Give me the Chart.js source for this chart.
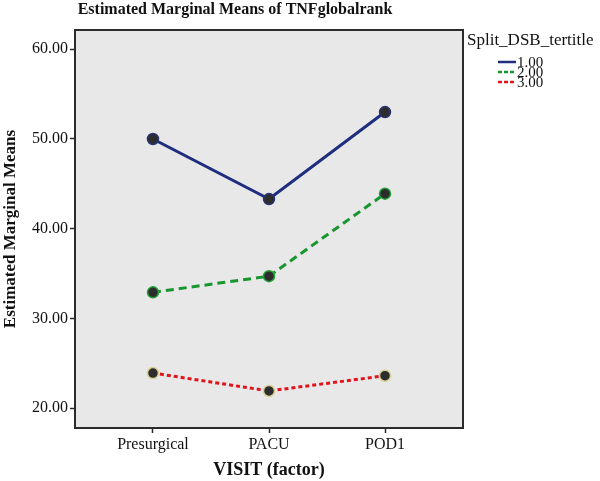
<!DOCTYPE html>
<html>
<head>
<meta charset="utf-8">
<script src="https://cdn.jsdelivr.net/npm/chart.js@4.4.0/dist/chart.umd.min.js"></script>
<style>
  html, body { margin: 0; padding: 0; background: #fff; }
  #wrap { width: 600px; height: 481px; }
</style>
</head>
<body>
<div id="wrap"><canvas id="grafico" width="600" height="481"></canvas></div>
<script>
// datos
const visitas = ['Presurgical', 'PACU', 'POD1'];
const grupos = ['1.00', '2.00', '3.00'];
const serie1 = [50.0, 43.3, 53.0];
const serie2 = [32.9, 34.7, 43.9];
const serie3 = [23.9, 21.9, 23.6];
const ticksY = [20, 30, 40, 50, 60];

const colores = ['#1f2d7f', '#17952f', '#e0141c'];
const bordesPunto = ['#2a3473', '#22a33a', '#d8cf95'];
const guiones = [[], [8, 5], [4, 3]];
const fuente = '"Liberation Serif", "DejaVu Serif", serif';

function puntos(valores) {
  return valores.map((v, i) => ({ x: i, y: v }));
}

const series = [serie1, serie2, serie3];

const fondoPlot = {
  id: 'fondoPlot',
  beforeDraw(chart) {
    const { ctx, chartArea: a } = chart;
    ctx.save();
    ctx.fillStyle = '#e8e8e8';
    ctx.fillRect(a.left, a.top, a.right - a.left, a.bottom - a.top);
    ctx.restore();
  },
  afterDatasetsDraw(chart) {
    const { ctx, chartArea: a } = chart;
    ctx.save();
    ctx.strokeStyle = '#2b2b2b';
    ctx.lineWidth = 2;
    ctx.strokeRect(a.left, a.top, a.right - a.left, a.bottom - a.top);
    ctx.restore();
  },
  afterDraw(chart) {
    const ctx = chart.ctx;
    ctx.save();
    // titulo
    ctx.fillStyle = '#111';
    ctx.font = 'bold 16px ' + fuente;
    ctx.textAlign = 'center';
    ctx.textBaseline = 'middle';
    ctx.fillText('Estimated Marginal Means of TNFglobalrank', 235, 10);
    // leyenda
    ctx.font = '17px ' + fuente;
    ctx.textAlign = 'left';
    ctx.fillText('Split_DSB_tertitle', 467, 41);
    ctx.font = '15px ' + fuente;
    chart.data.datasets.forEach((ds, i) => {
      const y = 62 + i * 10;
      ctx.strokeStyle = ds.borderColor;
      ctx.lineWidth = 2.5;
      ctx.setLineDash(ds.borderDash.length ? [4, 2] : []);
      ctx.beginPath();
      ctx.moveTo(498, y);
      ctx.lineTo(516, y);
      ctx.stroke();
      ctx.setLineDash([]);
      ctx.fillStyle = '#111';
      ctx.fillText(ds.label, 517, y + 1);
    });
    ctx.restore();
  }
};

const ctx = document.getElementById('grafico').getContext('2d');
const grafico = new Chart(ctx, {
  type: 'line',
  data: {
    datasets: series.map((s, i) => ({
      label: grupos[i],
      data: puntos(s),
      borderColor: colores[i],
      borderWidth: 3,
      borderDash: guiones[i],
      pointBackgroundColor: '#2d2d2d',
      pointBorderColor: bordesPunto[i],
      pointBorderWidth: 1.5,
      pointRadius: 5.5,
      tension: 0
    }))
  },
  options: {
    responsive: false,
    animation: false,
    layout: { padding: { top: 30, right: 137, left: 0, bottom: 0 } },
    plugins: {
      legend: { display: false },
      title: { display: false },
      tooltip: { enabled: false }
    },
    scales: {
      x: {
        type: 'linear',
        min: -0.672,
        max: 2.672,
        afterBuildTicks: s => { s.ticks = visitas.map((_, i) => ({ value: i })); },
        afterFit: s => { s.height = 53; },
        ticks: {
          callback: v => visitas[v],
          color: '#111',
          font: { family: fuente, size: 16 },
          padding: 2,
          maxRotation: 0
        },
        grid: { drawOnChartArea: false, tickLength: 5, color: '#2b2b2b', tickWidth: 1.5 },
        border: { display: false },
        title: {
          display: true,
          text: 'VISIT (factor)',
          color: '#111',
          font: { family: fuente, size: 18, weight: 'bold' },
          padding: { top: 0, bottom: 0 }
        }
      },
      y: {
        min: 17.77,
        max: 62.15,
        afterBuildTicks: s => { s.ticks = ticksY.map(v => ({ value: v })); },
        afterFit: s => { s.width = 75; },
        ticks: {
          callback: v => v.toFixed(2),
          color: '#111',
          font: { family: fuente, size: 16 },
          padding: 2
        },
        grid: { drawOnChartArea: false, tickLength: 5, color: '#2b2b2b', tickWidth: 1.5 },
        border: { display: false },
        title: {
          display: true,
          text: 'Estimated Marginal Means',
          color: '#111',
          font: { family: fuente, size: 17, weight: 'bold' },
          padding: { top: 0, bottom: 0 }
        }
      }
    }
  },
  plugins: [fondoPlot]
});
</script>
</body>
</html>
